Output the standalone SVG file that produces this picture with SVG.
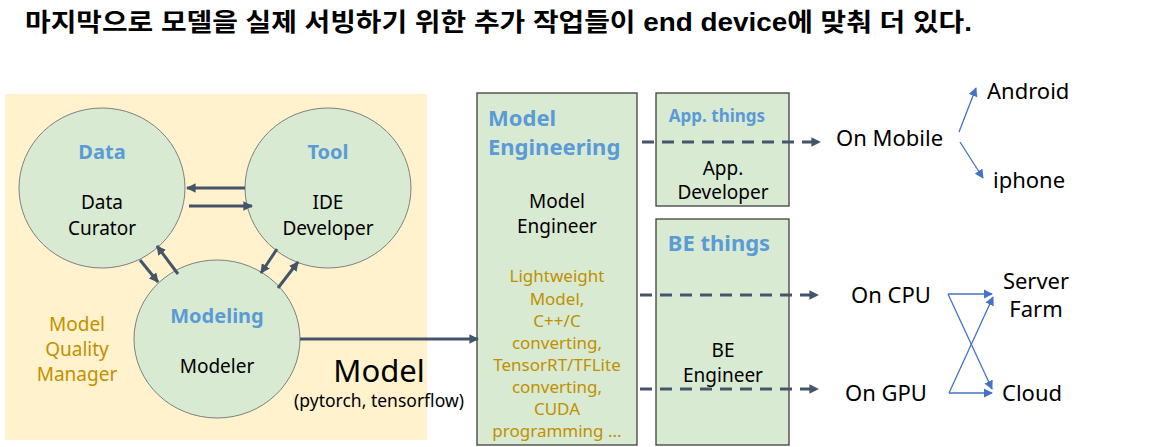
<svg xmlns="http://www.w3.org/2000/svg" width="1170" height="447" viewBox="0 0 1170 447">
  <style>
    text { font-family: "Noto Sans", "Open Sans", "Noto Sans CJK KR", sans-serif; }
    .title { font-family: "Liberation Sans", "Noto Sans CJK KR", sans-serif; font-weight: bold; font-size: 25px; fill: #000; }
    .head { fill: #5B9BD5; font-weight: bold; text-anchor: middle; }
    .lbl { fill: #000; font-size: 19px; text-anchor: middle; }
    .gold { fill: #BF9000; text-anchor: middle; }
    .circle { fill: #D9EAD3; stroke: #7F7F7F; stroke-width: 1; }
    .box { fill: #D9EAD3; stroke: #3F3F3F; stroke-width: 1.3; }
    .solid { stroke: #44546A; stroke-width: 3; fill: none; }
    .dash { stroke: #44546A; stroke-width: 3; fill: none; stroke-dasharray: 12 8; }
    .blue { stroke: #4472C4; stroke-width: 1.3; fill: none; }
  </style>
  <defs>
    <marker id="ah" viewBox="0 0 10 10" refX="9" refY="5" markerWidth="3.2" markerHeight="3.2" orient="auto" markerUnits="strokeWidth">
      <path d="M0,0 L10,5 L0,10 z" fill="#44546A"/>
    </marker>
    <marker id="ahb" viewBox="0 0 10 10" refX="9" refY="5" markerWidth="7" markerHeight="7" orient="auto" markerUnits="strokeWidth">
      <path d="M0,0 L10,5 L0,10 z" fill="#4472C4"/>
    </marker>
  </defs>

  <text class="title" x="25" y="31" textLength="947" lengthAdjust="spacingAndGlyphs">마지막으로 모델을 실제 서빙하기 위한 추가 작업들이 end device에 맞춰 더 있다.</text>

  <!-- model development area -->
  <rect id="dev-area" x="5" y="94" width="422" height="346" fill="#FFF2CC"/>

  <g id="data">
    <ellipse class="circle" cx="102" cy="188" rx="83" ry="80"/>
    <text class="head" x="102" y="159" font-size="20">Data</text>
    <text class="lbl" x="102" y="209">Data</text>
    <text class="lbl" x="102" y="235">Curator</text>
  </g>
  <g id="tool">
    <ellipse class="circle" cx="328" cy="188" rx="83" ry="80"/>
    <text class="head" x="328" y="159" font-size="20">Tool</text>
    <text class="lbl" x="328" y="209">IDE</text>
    <text class="lbl" x="328" y="235">Developer</text>
  </g>
  <g id="modeling">
    <ellipse class="circle" cx="217" cy="339" rx="83" ry="79"/>
    <text class="head" x="217" y="323" font-size="20">Modeling</text>
    <text class="lbl" x="217" y="373">Modeler</text>
  </g>
  <g id="quality">
    <text class="gold" x="77" y="331" font-size="19">Model</text>
    <text class="gold" x="77" y="356" font-size="19">Quality</text>
    <text class="gold" x="77" y="381" font-size="19">Manager</text>
  </g>

  <g id="model-label">
    <text x="379" y="382" font-size="31" text-anchor="middle" fill="#000">Model</text>
    <text x="379" y="407" font-size="17.5" text-anchor="middle" fill="#000">(pytorch, tensorflow)</text>
  </g>

  <g id="model-engineering">
    <rect class="box" x="477" y="93" width="160" height="352"/>
    <text x="488" y="126" font-size="22" font-weight="bold" fill="#5B9BD5">Model</text>
    <text x="488" y="155" font-size="22" font-weight="bold" fill="#5B9BD5">Engineering</text>
    <text class="lbl" x="557" y="208">Model</text>
    <text class="lbl" x="557" y="233">Engineer</text>
    <g font-size="17">
      <text class="gold" x="557" y="282">Lightweight</text>
      <text class="gold" x="557" y="305">Model,</text>
      <text class="gold" x="557" y="327">C++/C</text>
      <text class="gold" x="557" y="349">converting,</text>
      <text class="gold" x="557" y="371">TensorRT/TFLite</text>
      <text class="gold" x="557" y="393">converting,</text>
      <text class="gold" x="557" y="415">CUDA</text>
      <text class="gold" x="557" y="437">programming ...</text>
    </g>
  </g>

  <g id="app-things">
    <rect class="box" x="656" y="93" width="133" height="113"/>
    <text class="head" x="717" y="122" font-size="17">App. things</text>
    <text class="lbl" x="723" y="175">App.</text>
    <text class="lbl" x="723" y="199">Developer</text>
  </g>

  <g id="be-things">
    <rect class="box" x="656" y="219" width="133" height="226"/>
    <text class="head" x="719" y="251" font-size="22">BE things</text>
    <text class="lbl" x="723" y="357">BE</text>
    <text class="lbl" x="723" y="382">Engineer</text>
  </g>

  <g id="targets" font-size="22" fill="#000">
    <text x="836" y="146">On Mobile</text>
    <text x="987" y="99">Android</text>
    <text x="993" y="188">iphone</text>
    <text x="851" y="303">On CPU</text>
    <text x="845" y="401">On GPU</text>
    <text x="1036" y="289" text-anchor="middle">Server</text>
    <text x="1036" y="317" text-anchor="middle">Farm</text>
    <text x="1002" y="401">Cloud</text>
  </g>

  <g id="connectors">
    <line class="solid" x1="245" y1="188" x2="187" y2="188" marker-end="url(#ah)"/>
    <line class="solid" x1="189" y1="206" x2="252" y2="206" marker-end="url(#ah)"/>
    <line class="solid" x1="140" y1="260" x2="158" y2="282" marker-end="url(#ah)"/>
    <line class="solid" x1="178" y1="274" x2="157" y2="246" marker-end="url(#ah)"/>
    <line class="solid" x1="277" y1="249" x2="261" y2="273" marker-end="url(#ah)"/>
    <line class="solid" x1="278" y1="288" x2="298" y2="262" marker-end="url(#ah)"/>
    <line class="solid" x1="300" y1="339" x2="478" y2="339" marker-end="url(#ah)"/>

    <line class="dash" x1="642" y1="142" x2="820" y2="142" marker-end="url(#ah)"/>
    <line class="dash" x1="640" y1="295" x2="818" y2="295" marker-end="url(#ah)"/>
    <line class="dash" x1="640" y1="389" x2="818" y2="389" marker-end="url(#ah)"/>

    <line class="blue" x1="959" y1="132" x2="976" y2="88" marker-end="url(#ahb)"/>
    <line class="blue" x1="960" y1="142" x2="983" y2="178" marker-end="url(#ahb)"/>
    <line class="blue" x1="948" y1="294" x2="992" y2="294" marker-end="url(#ahb)"/>
    <line class="blue" x1="948" y1="294" x2="992" y2="389" marker-end="url(#ahb)"/>
    <line class="blue" x1="949" y1="393" x2="992" y2="393" marker-end="url(#ahb)"/>
    <line class="blue" x1="949" y1="393" x2="993" y2="297" marker-end="url(#ahb)"/>
  </g>
</svg>
